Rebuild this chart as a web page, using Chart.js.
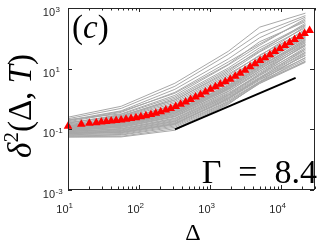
<!DOCTYPE html>
<html>
<head>
<meta charset="utf-8">
<script src="https://cdn.jsdelivr.net/npm/chart.js@4.4.0/dist/chart.umd.min.js"></script>
<style>
  html, body { margin: 0; padding: 0; background: #fff; }
  #wrap { width: 320px; height: 242px; }
</style>
</head>
<body>
<div id="wrap"><canvas id="chart" width="320" height="242"></canvas></div>
<script>
// ensemble average (red triangles)
const lagMean = [10, 15.4, 20, 25, 29.4, 34.5, 40.5, 47.6, 55.9, 65.6, 77.1, 90.6, 106, 125, 147, 172, 202, 238, 279, 328,
  385, 452, 531, 624, 733, 860, 1010, 1190, 1390, 1640, 1920, 2260, 2650, 3110, 3660, 4300, 5050, 5920, 6950, 8170,
  9600, 11300, 13200, 15500, 18300, 21400, 25200];
const msdMean = [0.126, 0.146, 0.158, 0.166, 0.174, 0.181, 0.187, 0.194, 0.205, 0.214, 0.228, 0.242, 0.261, 0.279, 0.306,
  0.338, 0.379, 0.43, 0.49, 0.57, 0.67, 0.80, 0.96, 1.16, 1.38, 1.71, 2.10, 2.54, 3.07, 3.72, 4.50, 5.65, 7.10, 8.91,
  11.6, 14.6, 18.7, 23.1, 29.0, 36.5, 45.8, 57.5, 72.4, 91.0, 114, 144, 180];

// single trajectories (grey lines)
const lagTraj = [10, 56, 320, 1800, 5000, 22000];
const msdTraj = [
  [0.251, 0.575, 3.31, 37.2, 234, 676],
  [0.224, 0.490, 2.63, 29.5, 148, 562],
  [0.200, 0.407, 2.09, 20.9, 105, 501],
  [0.178, 0.363, 1.66, 16.6, 66.1, 398],
  [0.209, 0.324, 1.32, 13.2, 58.9, 447],
  [0.191, 0.389, 1.55, 13.8, 77.6, 355],
  [0.158, 0.309, 1.17, 10.5, 49.0, 282],
  [0.166, 0.269, 1.05, 9.33, 37.2, 316],
  [0.166, 0.288, 0.933, 8.32, 41.7, 269],
  [0.141, 0.257, 0.933, 7.41, 35.5, 224],
  [0.151, 0.245, 0.832, 6.61, 26.3, 251],
  [0.126, 0.229, 0.741, 5.89, 28.2, 178],
  [0.135, 0.204, 0.661, 5.25, 22.4, 200],
  [0.120, 0.214, 0.589, 4.68, 23.4, 148],
  [0.132, 0.195, 0.631, 4.37, 20.9, 135],
  [0.112, 0.182, 0.525, 4.17, 17.8, 158],
  [0.126, 0.191, 0.490, 3.72, 16.6, 117],
  [0.117, 0.178, 0.447, 3.47, 14.8, 107],
  [0.105, 0.162, 0.468, 3.31, 15.5, 126],
  [0.115, 0.170, 0.417, 2.95, 14.1, 100],
  [0.112, 0.158, 0.407, 2.75, 13.2, 112],
  [0.100, 0.155, 0.389, 2.63, 11.2, 93.3],
  [0.107, 0.148, 0.372, 2.51, 12.3, 89.1],
  [0.110, 0.145, 0.355, 2.34, 11.7, 79.4],
  [0.102, 0.138, 0.339, 2.29, 10.5, 74.1],
  [0.0955, 0.135, 0.331, 2.19, 9.33, 85.1],
  [0.0955, 0.129, 0.309, 2.09, 9.77, 63.1],
  [0.100, 0.129, 0.295, 2.00, 8.32, 70.8],
  [0.0912, 0.117, 0.269, 1.82, 7.41, 58.9],
  [0.0891, 0.123, 0.275, 1.74, 8.32, 56.2],
  [0.0933, 0.115, 0.257, 1.58, 6.61, 63.1],
  [0.0832, 0.107, 0.234, 1.48, 6.17, 50.1],
  [0.0832, 0.102, 0.224, 1.38, 6.76, 44.7],
  [0.0871, 0.102, 0.209, 1.32, 5.89, 39.8],
  [0.0759, 0.0891, 0.186, 1.26, 5.25, 35.5],
  [0.0794, 0.0955, 0.195, 1.17, 4.90, 44.7],
  [0.0759, 0.0912, 0.178, 1.10, 4.68, 33.9],
  [0.0794, 0.0776, 0.148, 1.05, 4.47, 22.4],
  [0.0708, 0.0851, 0.166, 1.00, 4.17, 28.2],
  [0.0692, 0.0776, 0.155, 1.00, 4.90, 26.9],
  [0.0724, 0.0813, 0.155, 0.912, 3.72, 31.6],
  [0.0661, 0.0724, 0.141, 0.832, 3.55, 23.4],
  [0.0631, 0.0676, 0.129, 0.794, 3.72, 20.0],
  [0.0603, 0.0646, 0.117, 0.741, 3.31, 17.8],
  [0.0575, 0.0589, 0.105, 0.692, 3.24, 16.2],
  [0.0550, 0.0562, 0.0933, 0.661, 3.55, 17.0]
];

// slope-1 guide line
const lagRef = [320, 16000];
const msdRef = [0.1, 5];

// tick exponents
const xTickExp = [1, 2, 3, 4];
const yTickExp = [-3, -1, 1, 3];

const SERIF = '"Liberation Serif", "Times New Roman", serif';
const SANS = '"Liberation Sans", Arial, sans-serif';
const INK = '#262626';

function drawRich(ctx, parts, x, y, align) {
    let w = 0;
    parts.forEach(p => { ctx.font = p[1]; w += ctx.measureText(p[0]).width; });
    let cx = align === 'center' ? x - w / 2 : (align === 'right' ? x - w : x);
    parts.forEach(p => {
        ctx.font = p[1];
        ctx.fillText(p[0], cx, y + (p[2] || 0));
        cx += ctx.measureText(p[0]).width;
    });
}

const frame = {
    id: 'frame',
    afterDraw(chart) {
        const { ctx, chartArea: a, scales: { x, y } } = chart;
        ctx.save();
        ctx.strokeStyle = INK;
        ctx.fillStyle = INK;
        ctx.lineWidth = 1;
        ctx.strokeRect(a.left + 0.5, a.top + 0.5, a.right - a.left - 1, a.bottom - a.top - 1);

        // x ticks (major + minor), bottom and top
        ctx.beginPath();
        for (let d = 1; d <= 4; d++) {
            for (let k = 1; k <= 9; k++) {
                const v = k * Math.pow(10, d);
                if (v > x.max) break;
                const px = Math.round(x.getPixelForValue(v)) + 0.5;
                const len = k === 1 ? 4 : 2.5;
                ctx.moveTo(px, a.bottom - 1);
                ctx.lineTo(px, a.bottom - 1 - len);
                ctx.moveTo(px, a.top);
                ctx.lineTo(px, a.top + len);
            }
        }
        yTickExp.forEach(e => {
            const py = Math.round(y.getPixelForValue(Math.pow(10, e))) + 0.5;
            ctx.moveTo(a.left, py);
            ctx.lineTo(a.left + 4, py);
            ctx.moveTo(a.right - 1, py);
            ctx.lineTo(a.right - 5, py);
        });
        ctx.stroke();

        // tick labels
        ctx.textAlign = 'left';
        ctx.textBaseline = 'alphabetic';
        xTickExp.forEach(e => {
            const px = x.getPixelForValue(Math.pow(10, e));
            drawRich(ctx, [['10', '11px ' + SANS]], px + 0.5, 213, 'right');
            drawRich(ctx, [[String(e), '8px ' + SANS]], px + 0.5, 208, 'left');
        });
        yTickExp.forEach(e => {
            const py = y.getPixelForValue(Math.pow(10, e));
            const lbl = e < 0 ? '-' + Math.abs(e) : String(e);
            drawRich(ctx, [['10', '11px ' + SANS]], 55, py + 8, 'right');
            drawRich(ctx, [[lbl, '8px ' + SANS]], 55.5, py + 3.5, 'left');
        });

        // axis titles and annotations
        ctx.fillStyle = '#000';
        drawRich(ctx, [['Δ', '24px ' + SERIF]], 193, 240, 'center');

        ctx.save();
        ctx.translate(31, 106);
        ctx.rotate(-Math.PI / 2);
        drawRich(ctx, [
            ['δ', 'italic 33px ' + SERIF],
            ['2', '21px ' + SERIF, -13],
            ['(Δ, ', '33px ' + SERIF],
            ['T', 'italic 33px ' + SERIF],
            [')', '33px ' + SERIF]
        ], 0, 0, 'center');
        ctx.restore();

        drawRich(ctx, [['(', '33px ' + SERIF], ['c', 'italic 33px ' + SERIF], [')', '33px ' + SERIF]], 72, 38, 'left');
        drawRich(ctx, [['Γ', '34px ' + SERIF], ['\u2002=\u2002', '34px ' + SERIF], ['8.4', '34px ' + SERIF]], 317, 183, 'right');
        ctx.restore();
    }
};

const datasets = [];
datasets.push({
    data: lagMean.map((v, i) => ({ x: v, y: msdMean[i] })),
    showLine: false,
    pointStyle: 'triangle',
    pointRadius: 5,
    pointBackgroundColor: '#ff0000',
    pointBorderColor: '#ff0000',
    pointBorderWidth: 0,
    clip: false,
    order: 0
});
datasets.push({
    data: lagRef.map((v, i) => ({ x: v, y: msdRef[i] })),
    borderColor: '#000',
    borderWidth: 2,
    pointRadius: 0,
    order: 1
});
msdTraj.forEach(row => {
    datasets.push({
        data: lagTraj.map((v, i) => ({ x: v, y: row[i] })),
        borderColor: '#a8a8a8',
        borderWidth: 1,
        pointRadius: 0,
        order: 2
    });
});

new Chart(document.getElementById('chart').getContext('2d'), {
    type: 'line',
    data: { datasets },
    options: {
        responsive: false,
        animation: false,
        layout: { padding: { left: 68, right: 3, top: 8, bottom: 52 } },
        plugins: { legend: { display: false }, tooltip: { enabled: false } },
        scales: {
            x: { type: 'logarithmic', min: 10, max: 30000, display: false },
            y: { type: 'logarithmic', min: 0.001, max: 1000, display: false }
        }
    },
    plugins: [frame]
});
</script>
</body>
</html>
